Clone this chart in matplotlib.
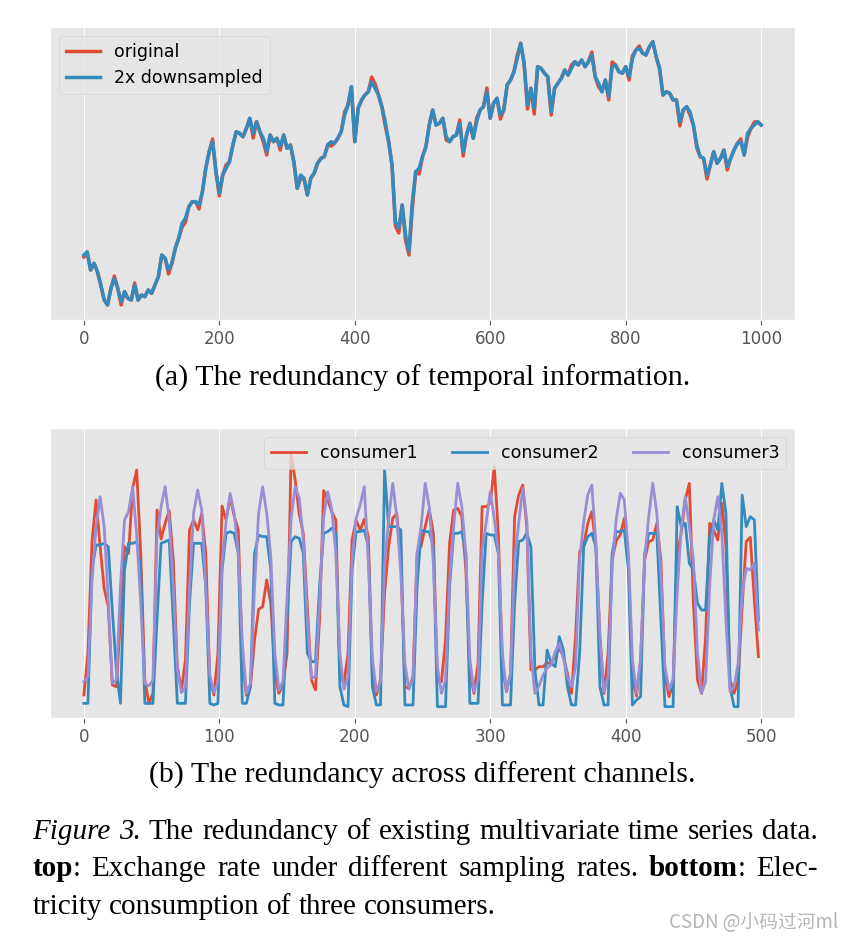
import matplotlib
matplotlib.use("Agg")
import matplotlib.pyplot as plt
import numpy as np

plt.style.use("ggplot")

# ---------------- data ----------------
exchange_step = 5
exchange_original = [
    63.0, 66.3, 50.0, 56.7, 48.3, 35.0, 20.0, 15.0, 31.7, 44.0,
    31.7, 15.0, 28.3, 21.7, 20.0, 37.0, 20.0, 25.0, 23.3, 30.0,
    26.7, 35.0, 43.3, 65.0, 61.7, 46.0, 56.7, 71.7, 81.7, 93.0,
    98.0, 113.3, 118.3, 118.3, 111.0, 128.3, 151.7, 168.3, 181.0, 148.3,
    124.0, 145.0, 155.0, 158.3, 175.0, 188.3, 186.7, 183.3, 191.7, 201.7,
    182.0, 198.3, 188.3, 178.0, 165.0, 185.0, 178.3, 181.7, 170.0, 185.0,
    171.7, 175.0, 158.3, 131.7, 141.0, 141.7, 125.0, 141.7, 146.7, 156.7,
    161.7, 163.3, 175.0, 174.0, 176.7, 181.7, 188.3, 208.0, 215.0, 233.3,
    178.3, 211.7, 220.0, 225.0, 228.3, 243.0, 236.0, 225.0, 213.3, 194.0,
    178.3, 155.0, 94.0, 87.0, 115.0, 80.0, 65.0, 112.0, 148.3, 146.0,
    163.3, 173.3, 195.0, 210.0, 195.0, 196.7, 201.7, 180.0, 178.3, 183.3,
    185.0, 200.0, 164.0, 185.0, 196.7, 181.7, 202.0, 210.0, 213.3, 232.0,
    201.7, 216.7, 221.7, 201.0, 210.0, 235.0, 240.0, 248.3, 265.0, 276.7,
    256.7, 211.0, 231.7, 206.0, 253.3, 251.7, 246.7, 243.3, 205.0, 231.7,
    236.7, 241.7, 250.0, 245.0, 255.0, 258.3, 255.0, 260.0, 253.3, 258.3,
    268.0, 243.3, 233.0, 228.3, 240.0, 220.0, 258.0, 255.0, 248.3, 246.7,
    253.3, 240.0, 264.0, 270.0, 274.0, 266.7, 265.0, 273.3, 278.3, 263.3,
    251.7, 225.0, 228.3, 226.7, 220.0, 220.0, 194.0, 210.0, 213.3, 205.0,
    195.0, 172.0, 163.3, 161.7, 141.0, 155.0, 168.3, 156.7, 161.7, 170.0,
    150.0, 161.7, 170.0, 176.7, 181.0, 165.0, 183.0, 191.7, 198.0, 198.3,
    195.0,
]
exchange_downsampled = [
    65.0, 68.3, 50.0, 56.7, 48.3, 35.0, 20.0, 15.0, 31.7, 41.7,
    31.7, 18.3, 28.3, 21.7, 20.0, 35.0, 20.0, 25.0, 23.3, 30.0,
    26.7, 35.0, 43.3, 65.0, 61.7, 50.0, 56.7, 71.7, 81.7, 96.7,
    101.7, 113.3, 118.3, 118.3, 115.0, 128.3, 151.7, 168.3, 178.3, 148.3,
    126.7, 145.0, 151.7, 158.3, 175.0, 188.3, 186.7, 183.3, 191.7, 201.7,
    186.7, 198.3, 188.3, 181.7, 168.3, 185.0, 178.3, 181.7, 173.3, 185.0,
    171.7, 175.0, 158.3, 131.7, 145.0, 141.7, 125.0, 141.7, 146.7, 156.7,
    161.7, 163.3, 175.0, 178.3, 176.7, 181.7, 188.3, 205.0, 215.0, 233.3,
    178.3, 211.7, 220.0, 225.0, 228.3, 238.3, 231.7, 225.0, 213.3, 198.3,
    178.3, 155.0, 98.3, 91.7, 115.0, 85.0, 68.3, 118.3, 148.3, 151.7,
    163.3, 173.3, 195.0, 210.0, 195.0, 196.7, 201.7, 183.3, 178.3, 183.3,
    185.0, 196.7, 168.3, 185.0, 196.7, 181.7, 198.3, 210.0, 213.3, 228.3,
    201.7, 216.7, 221.7, 205.0, 210.0, 235.0, 240.0, 248.3, 261.7, 276.7,
    256.7, 215.0, 231.7, 211.7, 253.3, 251.7, 246.7, 243.3, 208.3, 231.7,
    236.7, 241.7, 250.0, 245.0, 251.7, 258.3, 255.0, 260.0, 253.3, 258.3,
    265.0, 243.3, 236.7, 228.3, 240.0, 223.3, 253.3, 255.0, 248.3, 246.7,
    253.3, 243.3, 261.7, 270.0, 271.7, 266.7, 265.0, 273.3, 278.3, 263.3,
    251.7, 225.0, 228.3, 226.7, 220.0, 220.0, 198.3, 210.0, 213.3, 208.3,
    195.0, 175.0, 163.3, 161.7, 145.0, 155.0, 168.3, 156.7, 161.7, 170.0,
    153.3, 161.7, 170.0, 176.7, 178.3, 165.0, 186.7, 191.7, 195.0, 198.3,
    195.0,
]
exchange_labels = ["original", "2x downsampled"]
top_ticks = [0, 200, 400, 600, 800, 1000]

consumer_step = 3
consumer1 = [
    7.5, 20, 53.5, 66, 52, 39.5, 34, 10.5, 10, 30,
    52, 50, 69.5, 75, 50, 12, 5, 8, 63, 54.3,
    59, 62.8, 48, 16, 9, 18, 57, 60, 57, 62,
    50, 12, 7.5, 20, 64.2, 60, 66.8, 61.2, 57, 18,
    7.4, 10, 24, 33.2, 34, 42, 35, 14, 8, 10.5,
    20, 80, 72, 61.8, 56, 34, 12, 9, 30, 68.8,
    66, 62.5, 60, 14, 11, 20, 54, 60, 57, 60.2,
    55, 14, 7.5, 12, 38, 52, 60.5, 62, 48, 10,
    9.5, 13, 50, 52.2, 58, 63.2, 56, 11.5, 11.5, 24,
    53, 63, 63.5, 61, 45, 14, 8, 17, 64, 64,
    65, 76, 56, 16, 8.5, 14, 61, 67.5, 70.5, 58,
    15, 15, 16, 16, 17.2, 16.8, 19.5, 21.5, 19, 14,
    8, 25, 50.5, 52.5, 59, 62.5, 52, 25, 8, 20,
    48, 53.8, 55.5, 60.5, 48, 12, 7.2, 18, 48, 53.5,
    54, 59, 48, 13, 7, 11, 50, 56, 66, 71,
    35, 12, 8, 25, 59, 57, 54, 65, 52, 12,
    8, 12, 34, 53.5, 54.8, 36, 19,
]
consumer2 = [
    5, 5, 45, 52.5, 52.5, 53, 52, 33, 15, 5,
    45, 53, 53, 53.5, 45, 5, 5, 5, 30, 53,
    53.5, 54, 30, 5, 5, 5, 35, 53, 53, 53,
    40, 5, 4.5, 5, 45, 56, 56.5, 56, 50, 5,
    5, 10, 50, 55.5, 55, 55, 45, 5, 4.5, 4.5,
    30, 53.5, 55, 54.5, 50, 20, 17.5, 17.5, 40, 56,
    56.5, 57.5, 56, 10, 4.5, 4, 45, 56.5, 56.5, 57,
    52, 10, 4.5, 4.5, 75, 58, 58, 58, 57, 4.5,
    4.5, 4.5, 40, 57, 56.5, 56.5, 52, 4, 4, 4,
    40, 56, 56, 56.5, 50, 5, 5, 5, 35, 56,
    55.5, 55.5, 50, 4.5, 4.5, 4.5, 35, 53.5, 54, 56,
    52, 15, 4.5, 4.5, 21, 17, 16, 25, 21, 10,
    4.5, 4.5, 20, 52, 55, 56, 52, 10, 4.5, 4.5,
    50, 56.5, 56.5, 57, 45, 4.5, 6, 7, 50, 56,
    56, 56, 30, 4, 4, 4, 64, 58, 59, 47,
    45, 35, 33, 33, 55, 60, 57, 71, 62, 10,
    4, 4, 67.5, 58, 61, 60, 30,
]
consumer3 = [
    11.5, 13, 42, 58, 67, 58, 36, 11, 12, 40,
    60, 62.5, 70, 55.5, 35, 11, 10.2, 12, 55, 64,
    70, 60, 40, 15, 8.2, 9.8, 40, 62, 69, 63,
    40, 13.5, 8.2, 11.5, 47, 59.5, 68, 62, 50, 23,
    8, 11, 40, 62, 70, 62, 49, 20, 9, 11.5,
    37, 60.4, 70, 66.5, 54, 30, 12.5, 13, 35, 60.8,
    68.5, 63.2, 50, 20, 9.2, 12.8, 48, 60.5, 64.5, 70,
    47.5, 18.5, 8.5, 11.5, 47, 60, 71, 61, 44, 17,
    9.2, 12.5, 50, 58.2, 71, 64, 47, 16, 8, 12,
    42, 58, 71, 64, 50, 18, 8.5, 12, 51, 59.2,
    68.5, 60.5, 50, 20, 8.5, 14, 48, 59, 69.5, 60,
    20, 8, 10.2, 13.5, 15.5, 16.7, 20.5, 23, 18.5, 13,
    10, 16, 48, 59.5, 67.5, 70.5, 53, 25, 8.5, 13,
    46, 60.2, 68, 66, 50, 18, 8, 18, 48, 61,
    71, 62, 44, 16, 9, 12.2, 38, 57.5, 67, 58,
    48, 20, 8, 11.5, 40, 60, 67, 56, 30, 8.5,
    10, 17, 38, 45.5, 45, 47, 27,
]
consumer_labels = ["consumer1", "consumer2", "consumer3"]
bottom_ticks = [0, 100, 200, 300, 400, 500]

sub_a = "(a) The redundancy of temporal information."
sub_b = "(b) The redundancy across different channels."
caption_lines = [
    [[("Figure", "i")], [("3.", "i")], [("The", "n")], [("redundancy", "n")], [("of", "n")],
     [("existing", "n")], [("multivariate", "n")], [("time", "n")], [("series", "n")], [("data.", "n")]],
    [[("top", "b"), (":", "n")], [("Exchange", "n")], [("rate", "n")], [("under", "n")],
     [("different", "n")], [("sampling", "n")], [("rates.", "n")], [("bottom", "b"), (":", "n")],
     [("Elec-", "n")]],
    [[("tricity", "n")], [("consumption", "n")], [("of", "n")], [("three", "n")], [("consumers.", "n")]],
]
watermark = "CSDN @小码过河ml"

# ---------------- figure ----------------
W, H = 852, 940
fig = plt.figure(figsize=(W / 100, H / 100), dpi=100)
fig.patch.set_facecolor("white")


def px_axes(l, t, r, b):
    return fig.add_axes([l / W, 1 - b / H, (r - l) / W, (b - t) / H])


RED, BLUE, PURPLE = "#E24A33", "#348ABD", "#988ED5"

# top panel
ax1 = px_axes(50, 27, 795, 320)
orig = np.asarray(exchange_original)
down = np.asarray(exchange_downsampled)
ax1.plot(np.arange(len(orig)) * exchange_step, orig, color=RED, lw=2.5, label=exchange_labels[0])
ax1.plot(np.arange(len(down)) * exchange_step, down, color=BLUE, lw=2.5, label=exchange_labels[1])
ax1.set_xlim(-50, 1050)
ax1.set_ylim(0, 293)
ax1.set_xticks(top_ticks)
ax1.set_yticks([])
ax1.tick_params(axis="x", labelsize=12, colors="#555555")
ax1.legend(loc="upper left", fontsize=12.5)

# bottom panel
ax2 = px_axes(50, 428, 795, 718)
for vals, col, lab in zip([consumer1, consumer2, consumer3], [RED, BLUE, PURPLE], consumer_labels):
    v = np.asarray(vals)
    ax2.plot(np.arange(len(v)) * consumer_step, v, color=col, lw=2.0, label=lab)
ax2.set_xlim(-25, 525)
ax2.set_ylim(0.6, 87.6)
ax2.set_xticks(bottom_ticks)
ax2.set_yticks([])
ax2.tick_params(axis="x", labelsize=12, colors="#555555")
ax2.legend(loc="upper right", ncol=3, fontsize=12.5)

# ---------------- captions ----------------
SERIF = "Liberation Serif"
CAP = 21
renderer = fig.canvas.get_renderer()
STY = {"n": {}, "i": {"style": "italic"}, "b": {"weight": "bold"}}


def width_of(s, size, sty="n"):
    t = fig.text(0, 0, s, fontsize=size, family=SERIF, **STY[sty])
    w = t.get_window_extent(renderer).width
    t.remove()
    return w


fig.text(422.5 / W, 1 - 386 / H, sub_a, ha="center", va="baseline",
         family=SERIF, fontsize=21.5, color="black")
fig.text(422.5 / W, 1 - 783 / H, sub_b, ha="center", va="baseline",
         family=SERIF, fontsize=21.5, color="black")

space_w = width_of("a a", CAP) - width_of("aa", CAP)
x_left, x_right = 32.5, 818
baselines = [839, 876.5, 913.5]
for li, (words, yb) in enumerate(zip(caption_lines, baselines)):
    wws = [sum(width_of(p, CAP, s) for p, s in w) for w in words]
    if li < len(caption_lines) - 1:
        gap = (x_right - x_left - sum(wws)) / (len(words) - 1)
    else:
        gap = space_w
    x = x_left
    for w, ww in zip(words, wws):
        xx = x
        for p, s in w:
            fig.text(xx / W, 1 - yb / H, p, ha="left", va="baseline",
                     family=SERIF, fontsize=CAP, color="black", **STY[s])
            xx += width_of(p, CAP, s)
        x += ww + gap

fig.text(838 / W, 1 - 928 / H, watermark, ha="right", va="baseline",
         family=["Noto Sans CJK SC", "DejaVu Sans"], fontsize=13.5, color="#b5b5b5")

fig.savefig("out.png", dpi=100)
